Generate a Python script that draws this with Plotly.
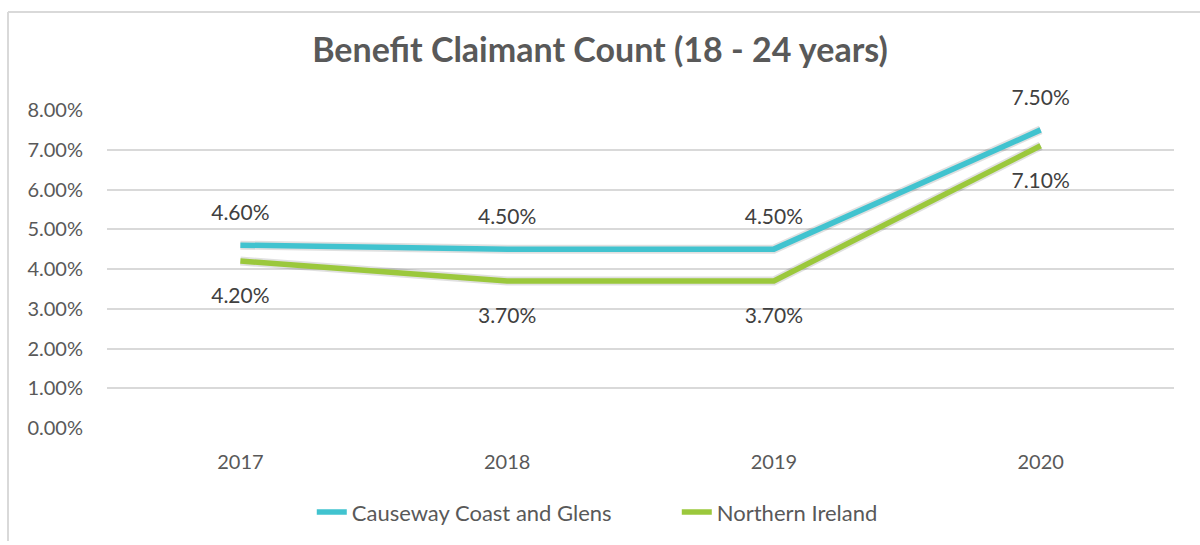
import plotly.graph_objects as go

years = ["2017", "2018", "2019", "2020"]
causeway = [4.6, 4.5, 4.5, 7.5]
northern_ireland = [4.2, 3.7, 3.7, 7.1]
y_ticks = [0, 1, 2, 3, 4, 5, 6, 7, 8]
y_tick_labels = [f"{v:.2f}%" for v in y_ticks]

TEAL = "#41C3CF"
GREEN = "#9BC83C"
GREY = "#595959"
FONT = "Lato"

fig = go.Figure()
# soft shadow beneath lines
for vals in (causeway, northern_ireland):
    fig.add_trace(go.Scatter(x=years, y=vals, mode="lines", showlegend=False, hoverinfo="skip",
                             line=dict(color="rgba(0,0,0,0.12)", width=9)))
fig.add_trace(go.Scatter(x=years, y=causeway, mode="lines", name="Causeway Coast and Glens",
                         line=dict(color=TEAL, width=5.5)))
fig.add_trace(go.Scatter(x=years, y=northern_ireland, mode="lines", name="Northern Ireland",
                         line=dict(color=GREEN, width=5.5)))

# data labels
fig.add_trace(go.Scatter(x=years, y=causeway, mode="markers+text", showlegend=False, hoverinfo="skip",
                         text=[f"{v:.2f}%" for v in causeway], textposition="top center",
                         marker=dict(size=30, opacity=0), cliponaxis=False,
                         textfont=dict(family=FONT, size=21, color="#404040")))
fig.add_trace(go.Scatter(x=years, y=northern_ireland, mode="markers+text", showlegend=False, hoverinfo="skip",
                         text=[f"{v:.2f}%" for v in northern_ireland], textposition="bottom center",
                         marker=dict(size=40, opacity=0), cliponaxis=False,
                         textfont=dict(family=FONT, size=21, color="#404040")))

fig.update_layout(
    width=1200, height=545,
    margin=dict(l=107, r=26, t=110, b=114),
    paper_bgcolor="white", plot_bgcolor="white",
    title=dict(text="<b>Benefit Claimant Count (18 - 24 years)</b>", x=0.5, xanchor="center",
               y=1 - 50 / 545, yanchor="middle",
               font=dict(family=FONT, size=34, color=GREY)),
    xaxis=dict(range=[-0.5, 3.5], showgrid=False, zeroline=False, showline=False,
               ticks="", tickfont=dict(family=FONT, size=20, color=GREY)),
    yaxis=dict(range=[0, 8], tickvals=y_ticks, ticktext=y_tick_labels, showgrid=True,
               gridcolor="#D9D9D9", gridwidth=1.5, zeroline=False, showline=False,
               ticks="", tickfont=dict(family=FONT, size=20, color=GREY)),
    legend=dict(orientation="h", x=0.534, xanchor="center", y=-0.265, yanchor="middle",
                font=dict(family=FONT, size=22, color=GREY), traceorder="normal",
                entrywidth=320, entrywidthmode="pixels"),
    shapes=[
        dict(type="line", xref="paper", yref="paper", x0=(8 - 107) / 1067, x1=(8 - 107) / 1067,
             y0=(110 - 11) / 321 + 1, y1=-(545 - 431) / 321, line=dict(color="#D9D9D9", width=2)),
        dict(type="line", xref="paper", yref="paper", x0=(8 - 107) / 1067, x1=(1200 - 107) / 1067,
             y0=(110 - 11) / 321 + 1, y1=(110 - 11) / 321 + 1, line=dict(color="#D9D9D9", width=2)),
    ],
)
fig.update_yaxes(ticklabelstandoff=23)
fig.update_xaxes(ticklabelstandoff=20)

fig.write_html("out.html", config={"displayModeBar": False},
               post_script="document.body.style.margin='0';")
